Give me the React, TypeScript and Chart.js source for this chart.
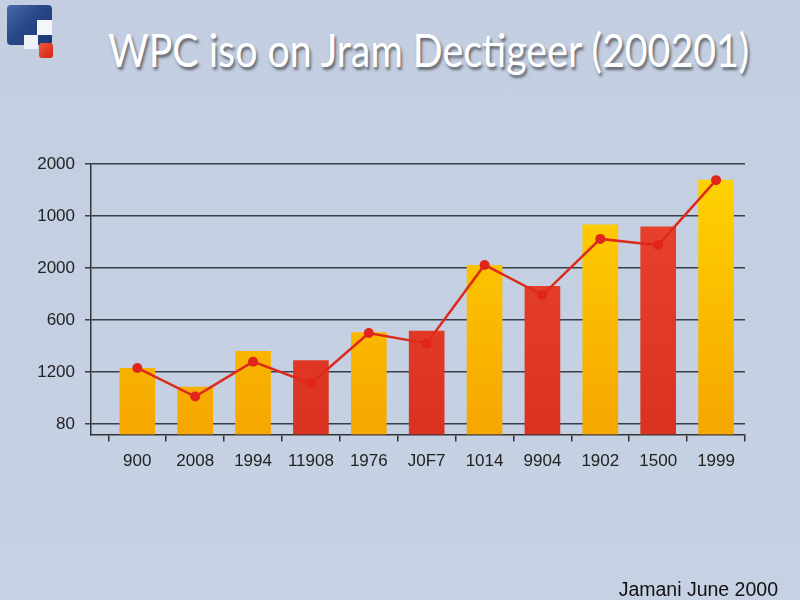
import React, { useEffect, useRef } from "react";
import { Chart, registerables } from "chart.js";

Chart.register(...registerables);

const categories = ["900", "2008", "1994", "11908", "1976", "J0F7", "1014", "9904", "1902", "1500", "1999"];
const barValues = [1.07, 0.71, 1.4, 1.22, 1.76, 1.79, 3.05, 2.65, 3.83, 3.79, 4.69];
const barKinds = ["y", "y", "y", "r", "y", "r", "y", "r", "y", "r", "y"];
const lineValues = [1.08, 0.53, 1.2, 0.78, 1.75, 1.55, 3.06, 2.48, 3.56, 3.44, 4.69];
const yTickValues = [0, 1, 2, 3, 4, 5];
const yTickLabels = ["80", "1200", "600", "2000", "1000", "2000"];
const titleText = "WPC iso on Jram Dectigeer (200201)";
const footerText = "Jamani June 2000";

export default function App() {
  const canvasRef = useRef<HTMLCanvasElement | null>(null);

  useEffect(() => {
    document.body.style.margin = "0";
    const canvas = canvasRef.current;
    if (!canvas) return;

    const barColor = (ctx: any) => {
      const chart = ctx.chart;
      const area = chart.chartArea;
      const kind = barKinds[ctx.dataIndex];
      if (!area) return kind === "y" ? "#fcc200" : "#e03a26";
      const g = chart.ctx.createLinearGradient(0, area.top, 0, area.bottom);
      if (kind === "y") {
        g.addColorStop(0, "#ffd400");
        g.addColorStop(1, "#f6a600");
      } else {
        g.addColorStop(0, "#ea4530");
        g.addColorStop(1, "#da3220");
      }
      return g;
    };

    const chart = new Chart(canvas, {
      type: "bar",
      data: {
        datasets: [
          {
            type: "bar",
            data: categories.map((_, i) => ({ x: i, y: barValues[i] })),
            backgroundColor: barColor,
            barThickness: 35,
            base: -0.2,
            order: 1,
          } as any,
          {
            type: "line",
            data: categories.map((_, i) => ({ x: i, y: lineValues[i] })),
            borderColor: "#dc2a1c",
            borderWidth: 2.5,
            pointRadius: 5,
            pointBackgroundColor: "#e0261a",
            pointBorderColor: "#e0261a",
            pointBorderWidth: 0,
            tension: 0,
            order: 0,
          } as any,
        ],
      },
      options: {
        animation: false,
        responsive: false,
        layout: { padding: { top: 164, right: 55, left: 0, bottom: 0 } },
        plugins: { legend: { display: false }, tooltip: { enabled: false } },
        scales: {
          x: {
            type: "linear",
            offset: false,
            min: -0.8,
            max: 10.5,
            afterBuildTicks: (s: any) => {
              s.ticks = categories.map((_, i) => ({ value: i }));
            },
            afterFit: (s: any) => {
              s.height = 165.5;
            },
            ticks: {
              callback: (v: any) => categories[v as number] ?? "",
              autoSkip: false,
              maxRotation: 0,
              color: "#222",
              padding: 10,
              font: { family: "Liberation Sans, Arial, sans-serif", size: 17 },
            },
            grid: {
              offset: true,
              drawOnChartArea: false,
              drawTicks: true,
              tickLength: 7,
              color: "#333",
              lineWidth: 1.5,
            },
            border: { color: "#333", width: 1.5 },
          },
          y: {
            type: "linear",
            min: -0.2,
            max: 5,
            afterBuildTicks: (s: any) => {
              s.ticks = yTickValues.map((v) => ({ value: v }));
            },
            afterFit: (s: any) => {
              s.width = 91;
            },
            ticks: {
              callback: (v: any) => yTickLabels[yTickValues.indexOf(v as number)] ?? "",
              color: "#222",
              padding: 10,
              font: { family: "Liberation Sans, Arial, sans-serif", size: 17 },
            },
            grid: {
              color: "#3a3e46",
              lineWidth: 1.5,
              tickLength: 6,
            },
            border: { color: "#333", width: 1.5 },
          },
        },
      } as any,
    });

    return () => chart.destroy();
  }, []);

  return (
    <div
      style={{
        position: "relative",
        width: 800,
        height: 600,
        overflow: "hidden",
        background: "linear-gradient(#c3cee0, #c6d1e3)",
      }}
    >
      <div
        style={{
          position: "absolute",
          left: 7,
          top: 5,
          width: 45,
          height: 40,
          borderRadius: 4,
          background: "linear-gradient(135deg, #4a6aa8 0%, #2a4a8a 40%, #1b3774 100%)",
        }}
      />
      <div style={{ position: "absolute", left: 37, top: 20, width: 15, height: 15, background: "#f4f6fa" }} />
      <div style={{ position: "absolute", left: 24, top: 35, width: 14, height: 14, background: "#eef1f6" }} />
      <div
        style={{
          position: "absolute",
          left: 39,
          top: 43,
          width: 14,
          height: 15,
          borderRadius: 3,
          background: "linear-gradient(135deg, #f05a40, #d42010)",
        }}
      />
      <div
        style={{
          position: "absolute",
          left: 108,
          top: 22,
          fontFamily: "Lato, 'Open Sans', sans-serif",
          fontSize: 46,
          lineHeight: "56px",
          color: "#ffffff",
          whiteSpace: "nowrap",
          transform: "scaleX(0.855)",
          transformOrigin: "left top",
          textShadow: "2px 3px 3px rgba(0,0,0,0.5)",
        }}
      >
        {titleText}
      </div>
      <canvas ref={canvasRef} width={800} height={600} style={{ position: "absolute", left: 0, top: 0 }} />
      <div
        style={{
          position: "absolute",
          right: 22,
          top: 577,
          fontFamily: "Liberation Sans, Arial, sans-serif",
          fontSize: 19.5,
          lineHeight: "24px",
          color: "#111",
          whiteSpace: "nowrap",
        }}
      >
        {footerText}
      </div>
    </div>
  );
}
